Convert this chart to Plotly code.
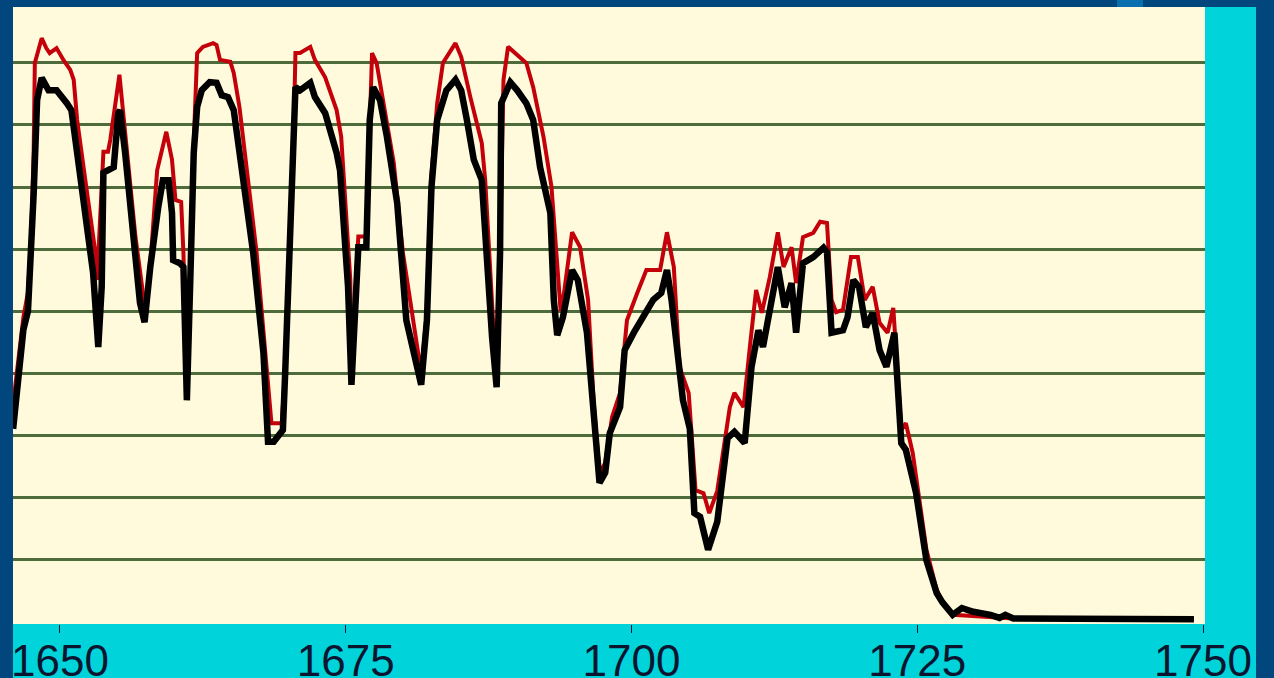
import plotly.graph_objects as go

# Black series (years, values)
black_years = [1645.9, 1646.8, 1647.2, 1647.5, 1647.7, 1648.0, 1648.4, 1649.0, 1649.7, 1650.6,
               1651.0, 1651.5, 1652.3, 1652.9, 1653.35, 1653.65, 1653.8, 1654.1, 1654.7, 1655.1,
               1655.25, 1655.7, 1656.6, 1657.0, 1657.4, 1657.9, 1658.6, 1659.0, 1659.5, 1659.8,
               1659.9, 1660.5, 1660.8, 1661.1, 1661.4, 1661.7, 1662.0, 1662.4, 1663.1, 1663.7,
               1664.15, 1664.7, 1665.2, 1666.0, 1666.9, 1667.8, 1668.1, 1668.2, 1668.7, 1669.25,
               1669.5, 1669.7, 1670.0, 1670.4, 1670.6, 1671.0, 1671.9, 1672.3, 1673.2, 1674.2,
               1674.5, 1674.9, 1675.2, 1675.5, 1675.8, 1676.1, 1676.8, 1677.0, 1677.1, 1677.4,
               1678.0, 1678.6, 1679.5, 1680.3, 1680.9, 1681.6, 1682.1, 1682.5, 1683.0, 1683.8,
               1684.6, 1685.1, 1685.6, 1686.2, 1686.9, 1687.3, 1687.8, 1688.2, 1688.5, 1688.6,
               1689.4, 1690.0, 1690.8, 1691.4, 1692.0, 1692.9, 1693.2, 1693.5, 1694.0, 1694.8,
               1695.3, 1696.1, 1696.7, 1697.2, 1697.7, 1698.1, 1699.0, 1699.4, 1700.2, 1701.0,
               1701.9, 1702.6, 1703.1, 1703.5, 1704.0, 1704.5, 1705.1, 1705.5, 1706.0, 1706.7,
               1707.5, 1708.4, 1709.0, 1709.9, 1710.5, 1711.1, 1711.5, 1712.3, 1712.8, 1713.4,
               1714.0, 1714.4, 1715.0, 1715.9, 1716.8, 1717.1, 1717.5, 1718.5, 1718.9, 1719.4,
               1719.9, 1720.5, 1721.1, 1721.7, 1722.3, 1723.0, 1723.3, 1723.6, 1724.0, 1724.9,
               1725.8, 1726.7, 1727.2, 1728.1, 1728.9, 1729.9, 1731.4, 1732.2, 1732.7, 1733.4,
               1749.2]
black_values = [31, 47, 50, 59, 69, 84, 87.6, 85.6, 85.6, 83.5,
                82.4, 75.5, 64.7, 56.1, 44.2, 53.9, 72.3, 72.7, 73.2, 81.9,
                82.4, 75.5, 59.4, 51.3, 48.2, 57.1, 66.8, 71.1, 71.1, 65.8,
                58.2, 57.7, 57.1, 35.6, 55.0, 75.5, 82.9, 85.6, 86.9, 86.8,
                84.8, 84.5, 82.4, 72.3, 59.4, 43.2, 35.2, 28.9, 28.9, 30.0,
                30.8, 40.0, 53.9, 72.7, 86.1, 85.6, 86.8, 84.5, 81.9, 75.5,
                72.7, 61.9, 53.9, 38.1, 51.3, 60.3, 60.3, 71.1, 80.8, 86.1,
                84.0, 78.1, 67.4, 48.5, 43.2, 38.1, 48.5, 70.0, 80.8, 85.6,
                87.3, 85.6, 80.8, 74.4, 71.1, 59.4, 45.8, 37.7, 59.4, 83.5,
                86.9, 85.6, 83.5, 80.8, 73.2, 65.8, 51.8, 46.1, 49.0, 56.6,
                55.0, 46.5, 32.9, 22.3, 23.9, 30.3, 34.5, 43.7, 46.5, 49.0,
                51.8, 52.9, 56.6, 51.8, 43.7, 35.6, 31.0, 17.4, 16.8, 11.5,
                16.0, 29.5, 30.5, 28.7, 41.0, 46.9, 44.2, 51.8, 57.1, 50.6,
                54.5, 46.5, 57.7, 58.7, 60.2, 59.5, 46.5, 46.9, 49.0, 55.0,
                53.9, 47.4, 49.7, 43.7, 41.0, 46.5, 35.6, 28.7, 27.6, 20.6,
                9.8, 4.5, 3.0, 1.0, 2.1, 1.5, 1.0, 0.5, 1.0, 0.4,
                0.3]

# Red series (years, values)
red_years = [1645.9, 1646.8, 1647.2, 1647.5, 1647.7, 1647.8, 1648.4, 1648.8, 1649.1, 1649.7,
             1650.3, 1650.9, 1651.2, 1651.5, 1652.3, 1653.1, 1653.25, 1653.6, 1653.7, 1653.8,
             1654.2, 1654.4, 1655.2, 1655.5, 1656.6, 1657.3, 1657.5, 1658.0, 1658.5, 1659.3,
             1659.8, 1660.1, 1660.6, 1660.8, 1661.1, 1661.4, 1661.7, 1662.0, 1662.5, 1663.4,
             1663.7, 1664.0, 1664.9, 1665.2, 1665.7, 1667.2, 1668.1, 1668.5, 1669.4, 1669.7,
             1670.0, 1670.4, 1670.6, 1671.0, 1671.9, 1672.3, 1673.2, 1674.2, 1674.6, 1675.1,
             1675.4, 1675.5, 1675.9, 1676.1, 1676.8, 1677.0, 1677.3, 1677.7, 1678.3, 1679.2,
             1680.0, 1680.9, 1681.3, 1681.6, 1682.1, 1682.5, 1683.0, 1683.5, 1684.6, 1685.1,
             1685.9, 1686.5, 1686.9, 1687.2, 1687.6, 1688.2, 1688.5, 1688.8, 1689.2, 1690.2,
             1690.8, 1691.4, 1692.3, 1693.0, 1693.6, 1693.8, 1694.1, 1694.8, 1695.5, 1696.2,
             1696.7, 1697.2, 1697.7, 1698.3, 1699.0, 1699.6, 1700.5, 1701.3, 1702.5, 1703.1,
             1703.7, 1704.2, 1705.0, 1705.6, 1706.3, 1706.8, 1707.5, 1708.3, 1708.6, 1709.0,
             1709.8, 1710.4, 1710.9, 1711.4, 1712.1, 1712.8, 1713.3, 1714.0, 1714.4, 1715.0,
             1715.9, 1716.5, 1717.1, 1717.5, 1717.9, 1718.5, 1719.2, 1719.8, 1720.4, 1721.1,
             1721.7, 1722.4, 1722.9, 1723.2, 1723.6, 1724.0, 1724.6, 1725.8, 1726.7, 1727.2,
             1728.1, 1733.4, 1749.2]
red_values = [35, 49, 53, 63, 76, 90.0, 94.0, 92.4, 91.6, 92.4,
              90.5, 88.9, 87.3, 80.8, 70.0, 59.4, 55.0, 70.0, 73.3, 75.7,
              75.7, 77.6, 88.1, 82.4, 62.0, 52.3, 50.0, 60.0, 72.7, 78.9,
              74.4, 67.9, 67.6, 59.4, 37.0, 56.0, 77.0, 91.6, 92.6, 93.2,
              92.9, 90.5, 90.2, 88.4, 82.9, 59.4, 40.5, 31.9, 31.9, 40.5,
              54.0, 75.0, 91.6, 91.6, 92.6, 90.5, 87.7, 82.4, 78.1, 64.7,
              55.0, 40.0, 55.0, 62.0, 62.0, 75.0, 91.6, 90.0, 83.5, 73.9,
              59.4, 48.5, 43.2, 40.0, 50.0, 72.0, 83.5, 90.0, 93.2, 91.0,
              84.5, 79.7, 77.1, 71.1, 56.6, 38.0, 60.0, 87.3, 92.6, 91.0,
              90.0, 86.1, 78.1, 70.0, 53.9, 50.0, 53.0, 62.7, 60.3, 51.8,
              35.0, 23.9, 25.5, 32.9, 36.8, 48.5, 52.9, 56.6, 56.6, 62.7,
              57.1, 41.0, 36.8, 21.1, 20.6, 17.4, 21.0, 31.3, 34.5, 36.8,
              34.5, 45.0, 53.4, 49.7, 55.5, 62.7, 57.1, 60.3, 54.5, 61.9,
              62.6, 64.4, 64.2, 51.8, 49.8, 50.2, 58.7, 58.7, 51.8, 53.9,
              48.1, 46.5, 50.5, 42.1, 30.8, 31.9, 27.1, 11.5, 5.0, 3.2,
              1.0, 0.4, 0.3]

tick_years = [1650, 1675, 1700, 1725, 1750]
grid_values = [10, 20, 30, 40, 50, 60, 70, 80, 90]

OUTER = "#01477E"
CREAM = "#FFFADC"
CYAN = "#00D4DA"
GRID = "#4E6B3C"

fig = go.Figure()
fig.add_trace(go.Scatter(x=red_years, y=red_values, mode="lines",
                         line=dict(color="#C4000A", width=4), hoverinfo="skip"))
fig.add_trace(go.Scatter(x=black_years, y=black_values, mode="lines",
                         line=dict(color="#000000", width=6.5), hoverinfo="skip"))

fig.update_layout(
    width=1274, height=678,
    margin=dict(l=13, r=69, t=7, b=54, pad=0, autoexpand=False),
    paper_bgcolor=OUTER,
    plot_bgcolor="rgba(0,0,0,0)",
    showlegend=False,
    shapes=[
        dict(type="rect", xref="paper", yref="paper", x0=0, x1=1.0428, y0=-0.2, y1=1,
             fillcolor=CYAN, line=dict(width=0), layer="below"),
        dict(type="rect", xref="paper", yref="paper", x0=0, x1=1, y0=0, y1=1,
             fillcolor=CREAM, line=dict(width=0), layer="below"),
        dict(type="rect", xref="paper", yref="paper", x0=0.9262, x1=0.948, y0=1.0, y1=1.02,
             fillcolor="#0A6FAE", line=dict(width=0), layer="below"),
    ],
    xaxis=dict(range=[1645.89, 1750.17], tickvals=tick_years,
               ticktext=[str(t) for t in tick_years], automargin=False,
               ticks="outside", ticklen=8, tickwidth=1, tickcolor="#0B1530",
               showgrid=False, zeroline=False, showline=False, ticklabelstandoff=-10,
               tickfont=dict(family="Liberation Sans, Arial, sans-serif", size=44, color="#0B1530")),
    yaxis=dict(range=[-0.48, 99.03], tickvals=grid_values, showticklabels=False,
               showgrid=True, gridcolor=GRID, gridwidth=2.5, zeroline=False, showline=False,
               ticks="", automargin=False),
)

fig.write_html("out.html")
